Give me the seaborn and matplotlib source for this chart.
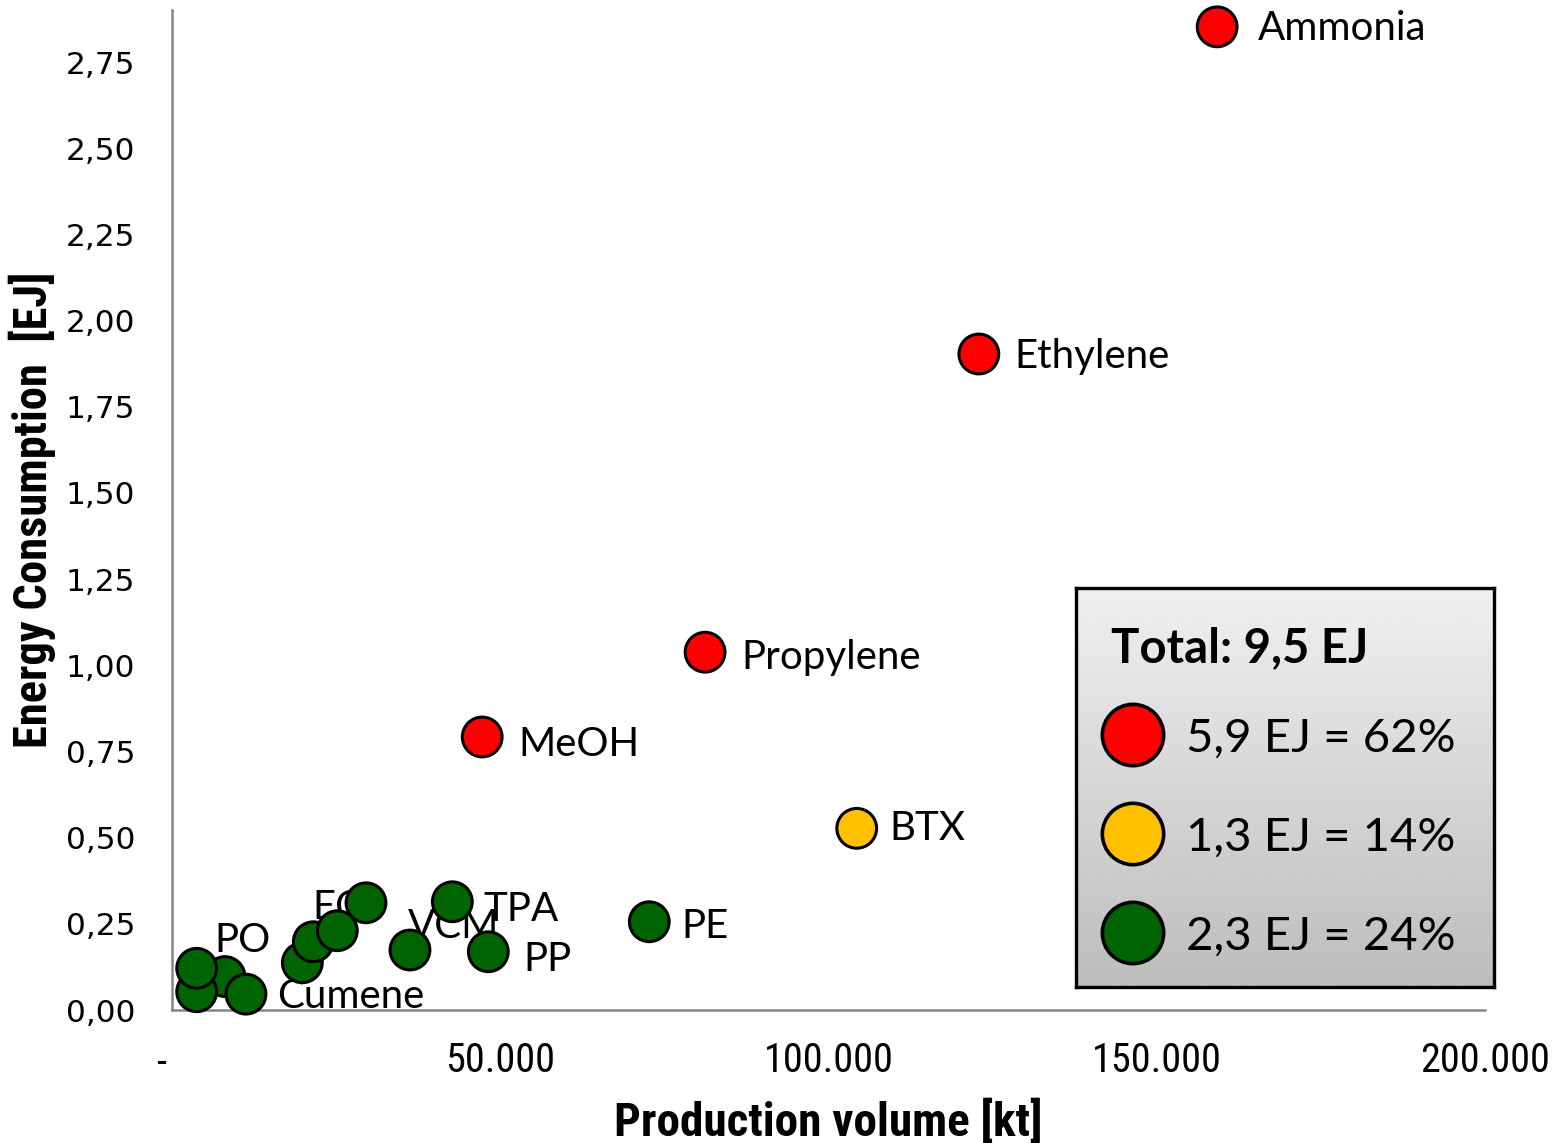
import numpy as np
import pandas as pd
import matplotlib
matplotlib.use("Agg")
import matplotlib.pyplot as plt
from matplotlib import font_manager
from matplotlib.font_manager import FontProperties
from matplotlib.transforms import ScaledTranslation
import seaborn as sns

# ---- data -------------------------------------------------------------
products = ["PO_b", "PO_c", "PO", "Cumene", "S1", "S2", "S3", "EO", "VCM",
            "TPA", "PP", "PE", "BTX", "MeOH", "Propylene", "Ethylene", "Ammonia"]
labels = ["", "", "PO", "Cumene", "", "EO", "", "", "VCM",
          "TPA", "PP", "PE", "BTX", "MeOH", "Propylene", "Ethylene", "Ammonia"]
volume_kt = [8070, 3760, 3760, 11270, 19850, 21520, 25180, 29550, 36250,
             42700, 48180, 72700, 104300, 47250, 81200, 122900, 159200]
energy_ej = [0.097, 0.053, 0.121, 0.046, 0.137, 0.198, 0.230, 0.311, 0.174,
             0.314, 0.169, 0.256, 0.527, 0.792, 1.038, 1.903, 2.852]
group = ["green"] * 12 + ["yellow"] + ["red"] * 4

group_colors = {"red": "#FF0000", "yellow": "#FFC000", "green": "#006400"}
legend_groups = ["red", "yellow", "green"]
legend_texts = ["5,9 EJ = 62%", "1,3 EJ = 14%", "2,3 EJ = 24%"]
total_text = "Total: 9,5 EJ"

x_ticks = [0, 50000, 100000, 150000, 200000]
x_ticklabels = ["-", "50.000", "100.000", "150.000", "200.000"]
y_ticks = [0, 0.25, 0.5, 0.75, 1.0, 1.25, 1.5, 1.75, 2.0, 2.25, 2.5, 2.75]
y_ticklabels = ["0,00", "0,25", "0,50", "0,75", "1,00", "1,25", "1,50",
                "1,75", "2,00", "2,25", "2,50", "2,75"]

df = pd.DataFrame({"product": products, "label": labels, "volume": volume_kt,
                   "energy": energy_ej, "group": group})

# ---- fonts & colours ---------------------------------------------------
sns.set_style("white")
available = {f.name for f in font_manager.fontManager.ttflist}
label_font = "Lato" if "Lato" in available else "DejaVu Sans"
plt.rcParams["font.family"] = [label_font, "DejaVu Sans"]
plt.rcParams.update({"text.color": "black", "axes.labelcolor": "black",
                     "xtick.color": "black", "ytick.color": "black"})


def narrow_font(bold):
    """Pick a condensed sans face for the axis texts, if one is installed."""
    def is_bold(f):
        w = f.weight if isinstance(f.weight, int) else font_manager.weight_dict.get(f.weight, 400)
        return w >= 600
    prefs = ["Liberation Sans Narrow", "Roboto Condensed", "Open Sans Condensed",
             "DejaVu Sans Condensed", "DejaVu Sans"]
    cands = []
    for f in font_manager.fontManager.ttflist:
        narrowish = ("Narrow" in f.name or "Condensed" in f.name
                     or f.stretch in ("condensed", "semi-condensed", "extra-condensed")
                     or "Condensed" in f.fname or "Narrow" in f.fname)
        if narrowish and f.style == "normal" and is_bold(f) == bold:
            rank = prefs.index(f.name) if f.name in prefs else len(prefs)
            cands.append((rank, f.fname))
    if cands:
        cands.sort()
        return FontProperties(fname=cands[0][1]), True
    return FontProperties(family="DejaVu Sans", weight="bold" if bold else "normal"), False


narrow_reg, found_reg = narrow_font(False)
narrow_bold, found_bold = narrow_font(True)

W, H, DPI = 1554, 1143, 100
fig = plt.figure(figsize=(W / DPI, H / DPI), dpi=DPI)
fig.patch.set_facecolor("white")

ax_l, ax_r, ax_b, ax_t = 172, 1485, 1010, 10.3
ax = fig.add_axes([ax_l / W, 1 - ax_b / H, (ax_r - ax_l) / W, (ax_b - ax_t) / H])

sns.scatterplot(data=df, x="volume", y="energy", hue="group", palette=group_colors,
                s=820, edgecolor="black", linewidth=2.2, legend=False,
                ax=ax, zorder=3, clip_on=False)

# data labels (offsets in pixels from each marker)
label_offsets = {
    "PO": (18, 16), "EO": (-1, 23), "VCM": (-2, 12), "TPA": (31, -19),
    "PP": (35, -19), "Cumene": (31, -14), "PE": (32, -16), "BTX": (33, -12),
    "MeOH": (36, -19), "Propylene": (36, -17), "Ethylene": (36, -14),
    "Ammonia": (41, -13),
}
for _, row in df.iterrows():
    if row["label"]:
        dx, dy = label_offsets[row["label"]]
        ax.annotate(row["label"], (row["volume"], row["energy"]),
                    xytext=(dx, dy), textcoords="offset pixels",
                    ha="left", va="baseline", fontsize=29, color="black",
                    zorder=2, annotation_clip=False)

# axes styling
ax.set_xlim(0, 200000)
ax.set_ylim(0, 2.9)
for side in ["top", "right"]:
    ax.spines[side].set_visible(False)
for side in ["left", "bottom"]:
    ax.spines[side].set_color("#868686")
    ax.spines[side].set_linewidth(1.8)

tick_size = 29 if found_reg else 23
ax.set_xticks(x_ticks)
ax.set_xticklabels(x_ticklabels)
for t in ax.get_xticklabels():
    t.set_fontproperties(narrow_reg)
    t.set_fontsize(tick_size)
    t.set_color("black")
ax.set_yticks(y_ticks)
ax.set_yticklabels(y_ticklabels, fontfamily="DejaVu Sans", fontsize=22.5, color="black")
ax.tick_params(axis="both", direction="out", length=8.5, width=1.8, color="#868686")
ax.tick_params(axis="x", pad=14)
ax.tick_params(axis="y", pad=18)
dash = ax.get_xticklabels()[0]
dash.set_transform(dash.get_transform() + ScaledTranslation(-10 / DPI, -3 / DPI, fig.dpi_scale_trans))

title_size = 34 if found_bold else 25
ax.set_xlabel("Production volume [kt]", color="black")
ax.xaxis.label.set_fontproperties(narrow_bold)
ax.xaxis.label.set_fontsize(title_size)
ax.xaxis.set_label_coords(0.5, -0.112)
ax.xaxis.label.set_va("center")
ax.set_ylabel("Energy Consumption  [EJ]", color="black")
ax.yaxis.label.set_fontproperties(narrow_bold)
ax.yaxis.label.set_fontsize(title_size - 0.5)
ax.yaxis.set_label_coords(-0.106, 0.5)
ax.yaxis.label.set_va("center")

# ---- summary box ---------------------------------------------------------
bx0, by0, bx1, by1 = 1076, 588, 1494, 987
bw, bh = bx1 - bx0, by1 - by0
box = fig.add_axes([bx0 / W, 1 - by1 / H, bw / W, bh / H], zorder=5)
grad = np.linspace(0.94, 0.74, 256).reshape(-1, 1)
box.imshow(np.repeat(grad, 2, axis=1), cmap="gray", vmin=0, vmax=1,
           extent=[0, bw, bh, 0], aspect="auto", interpolation="bicubic")
box.set_xticks([])
box.set_yticks([])
for sp in box.spines.values():
    sp.set_color("black")
    sp.set_linewidth(2.4)

box.text(35, 60, total_text, fontsize=34, fontweight="bold", ha="left", va="center",
         color="black")
leg_df = pd.DataFrame({"group": legend_groups, "text": legend_texts,
                       "row": [0, 1, 2]})
leg_df["x"] = 57
leg_df["y"] = 147 + leg_df["row"] * 99
sns.scatterplot(data=leg_df, x="x", y="y", hue="group", palette=group_colors,
                s=1950, edgecolor="black", linewidth=2.6, legend=False, ax=box,
                zorder=3)
for _, r in leg_df.iterrows():
    box.text(110, r["y"] + 4, r["text"], fontsize=34, ha="left", va="center",
             color="black")
box.set_xlabel("")
box.set_ylabel("")
box.set_xlim(0, bw)
box.set_ylim(bh, 0)

fig.savefig("out.png", dpi=DPI)
